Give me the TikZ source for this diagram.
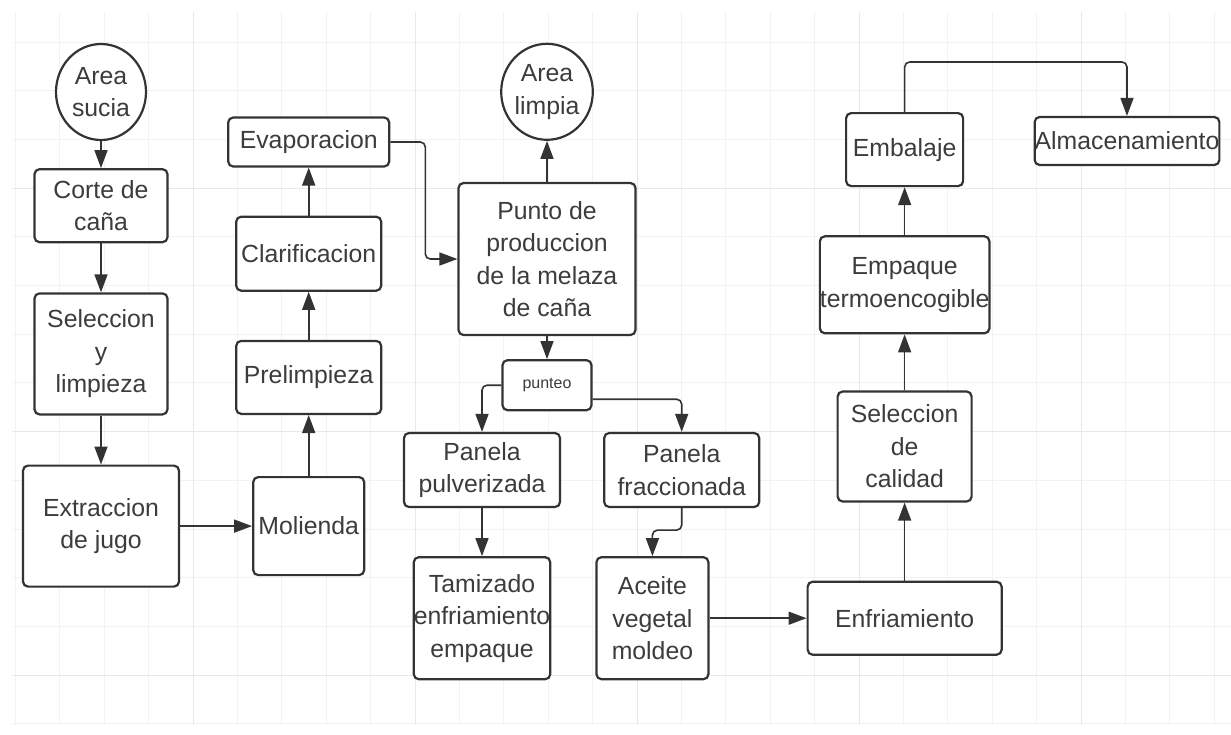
\documentclass[tikz,border=0pt]{standalone}
\usepackage{fontspec}
\setmainfont{Liberation Sans}
\usetikzlibrary{shapes.geometric, arrows.meta, positioning}
\definecolor{inkc}{HTML}{333333}
\definecolor{txtc}{HTML}{3C3C3C}
\definecolor{gridlo}{HTML}{F2F2F2}
\definecolor{gridhi}{HTML}{E8E8E8}

\begin{document}
\begin{tikzpicture}[x=1pt, y=-1pt,
    procbox/.style={rectangle, draw=inkc, line width=2.2pt, rounded corners=5pt,
        fill=white, text=txtc, align=center, inner sep=0pt,
        font=\fontsize{24.8}{32.5}\selectfont},
    areanode/.style={ellipse, draw=inkc, line width=2.2pt, fill=white,
        text=txtc, align=center, inner sep=0pt,
        minimum width=90pt, minimum height=96pt,
        font=\fontsize{24.8}{32.5}\selectfont},
    arrow/.style={-{Triangle[length=18pt, width=13pt]}, draw=inkc,
        line width=1.6pt, rounded corners=5pt},
    gridline/.style={draw=gridlo, line width=0.8pt},
    gridmajor/.style={draw=gridhi, line width=1pt}
]
\fill[white] (0,0) rectangle (1231,734);
\useasboundingbox (0,0) rectangle (1231,734);
% background grid
\foreach \i in {0,...,27}
    \draw[gridline] ({15.4+44.4*\i},12) -- ({15.4+44.4*\i},725);
\foreach \j in {0,...,14}
    \draw[gridline] (12,{41.9+48.7*\j}) -- (1231,{41.9+48.7*\j});
\foreach \i in {0,...,4}
    \draw[gridmajor] ({193+222*\i},12) -- ({193+222*\i},725);
\foreach \j in {0,...,2}
    \draw[gridmajor] (12,{188+243.5*\j}) -- (1231,{188+243.5*\j});

% left column, going down
\node[areanode] (sucia) at (101,92) {Area\\sucia};
\node[procbox, minimum width=133pt, minimum height=73pt, below=27pt of sucia]
    (corte) {Corte de\\caña};
\node[procbox, minimum width=133pt, minimum height=121pt, below=49pt of corte]
    (selec) {Seleccion\\y\\limpieza};
\node[procbox, minimum width=156pt, minimum height=121pt, below=49pt of selec]
    (extr) {Extraccion\\de jugo};
% second column, going up
\node[procbox, minimum width=111pt, minimum height=98pt, right=72pt of extr]
    (mol) {Molienda};
\node[procbox, minimum width=145pt, minimum height=73pt, above=61pt of mol]
    (prel) {Prelimpieza};
\node[procbox, minimum width=145pt, minimum height=74pt, above=48pt of prel]
    (clar) {Clarificacion};
\node[procbox, minimum width=161pt, minimum height=49pt, above=48pt of clar]
    (evap) {Evaporacion};
% middle: production point and the two panela branches
\node[procbox, minimum width=177pt, minimum height=152pt] (punto) at (547,259)
    {Punto de\\produccion\\de la melaza\\de caña};
\node[areanode, above=41pt of punto] (limpia) {Area\\limpia};
\node[procbox, minimum width=89pt, minimum height=50pt,
    font=\fontsize{16}{20}\selectfont, below=23pt of punto] (punteo) {punteo};
\node[procbox, minimum width=156pt, minimum height=74pt] (pulv) at (482,470)
    {Panela\\pulverizada};
\node[procbox, minimum width=155pt, minimum height=74pt, right=42pt of pulv]
    (frac) {Panela\\fraccionada};
\node[procbox, minimum width=134pt, minimum height=122pt, below=48pt of pulv]
    (tam) {Tamizado\\enfriamiento\\empaque};
\node[procbox, minimum width=112pt, minimum height=122pt, right=44pt of tam]
    (aceite) {Aceite\\vegetal\\moldeo};
% right column, going up
\node[procbox, minimum width=194pt, minimum height=73pt, right=97pt of aceite]
    (enfr) {Enfriamiento};
\node[procbox, minimum width=134pt, minimum height=110pt, above=78pt of enfr]
    (calid) {Seleccion\\de\\calidad};
\node[procbox, minimum width=166pt, minimum height=97pt, above=56pt of calid]
    (empq) {Empaque\\termoencogible};
\node[procbox, minimum width=117pt, minimum height=73pt, above=48pt of empq]
    (emb) {Embalaje};
\node[procbox, minimum width=182pt, minimum height=48pt] (alm) at (1127,141)
    {Almacenamiento};

% arrows
\draw[arrow] (sucia) -- (corte);
\draw[arrow] (corte) -- (selec);
\draw[arrow] (selec) -- (extr);
\draw[arrow] (extr)  -- (mol);
\draw[arrow] (mol)   -- (prel);
\draw[arrow] (prel)  -- (clar);
\draw[arrow] (clar)  -- (evap);
\draw[arrow] (evap.east) -- ++(35,0) |- (punto.west);
\draw[arrow] (punto) -- (limpia);
\draw[arrow] (punto) -- (punteo);
\draw[arrow] (punteo.west) -| (pulv.north);
\draw[arrow] ([yshift=-14pt]punteo.east) -| (frac.north);
\draw[arrow] (pulv)  -- (tam);
\draw[arrow] (frac.south) -- ++(0,22) -| (aceite.north);
\draw[arrow] (aceite) -- (enfr);
\draw[arrow] (enfr)  -- (calid);
\draw[arrow] (calid) -- (empq);
\draw[arrow] (empq)  -- (emb);
\draw[arrow] (emb.north) -- ++(0,-50) -| (alm.north);
\end{tikzpicture}
\end{document}
